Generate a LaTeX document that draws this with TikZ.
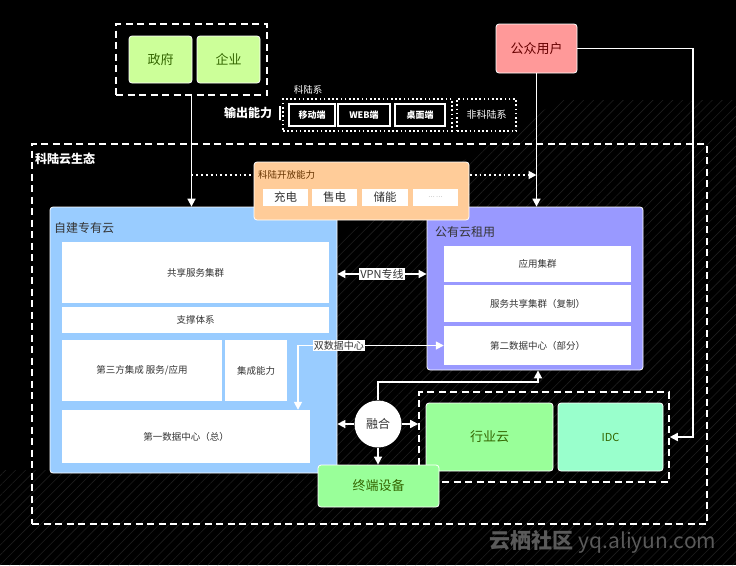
\documentclass[tikz,border=0pt]{standalone}
\usepackage{fontspec}
\setmainfont{Noto Sans CJK SC}
\usetikzlibrary{arrows.meta,patterns.meta,calc}
\definecolor{lgreen}{HTML}{CCFF99}
\definecolor{dgreen}{HTML}{336600}
\definecolor{pinkc}{HTML}{FF9999}
\definecolor{dred}{HTML}{660000}
\definecolor{orangec}{HTML}{FFCC99}
\definecolor{dorange}{HTML}{663300}
\definecolor{bluec}{HTML}{99CCFF}
\definecolor{purplec}{HTML}{9999FF}
\definecolor{greenc}{HTML}{99FF99}
\definecolor{aquac}{HTML}{99FFCC}
\definecolor{txt}{HTML}{333333}
\definecolor{hatchc}{HTML}{1E1E1E}
\definecolor{wmark}{HTML}{5A5A5A}
\tikzset{
  fbox/.style={rounded corners=3pt, inner sep=0pt, draw=white, line width=0.8pt},
  wbox/.style={fill=white, inner sep=0pt, text=txt, font=\fontsize{9.5}{11}\selectfont},
  dashbox/.style={draw=white, line width=2pt, dash pattern=on 7pt off 4.5pt, inner sep=0pt},
  dotbox/.style={draw=white, line width=1.6pt, dash pattern=on 1.6pt off 2.6pt, inner sep=0pt},
  kbox/.style={fill=black, draw=white, line width=1.5pt, inner sep=0pt, text=white, font=\bfseries\fontsize{9}{10}\selectfont},
  arr/.style={draw=white, line width=1.6pt, -{Triangle[width=8pt,length=8pt]}},
  arrb/.style={draw=white, line width=1.6pt, {Triangle[width=8pt,length=8pt]}-{Triangle[width=8pt,length=8pt]}},
  lbl/.style={fill=white, text=txt, inner sep=1pt, font=\fontsize{10}{11}\selectfont},
}
\begin{document}
\begin{tikzpicture}[x=1pt,y=-1pt]
\useasboundingbox[fill=black] (0,0) rectangle (736,565);
% background hatch
\fill[pattern={Lines[angle=45,distance=7pt,line width=0.6pt]}, pattern color=hatchc]
  (337,240) -- (560,100) -- (736,100) -- (736,565) -- (0,565) -- (0,470) -- (337,470) -- cycle;

% top: government / enterprise
\node[dashbox, minimum width=151, minimum height=71] (gov) at (191.5,59.5) {};
\node[fbox, fill=lgreen, text=dgreen, minimum width=63, minimum height=47, font=\fontsize{13}{14}\selectfont] (zf) at (160.5,59.5) {政府};
\node[fbox, fill=lgreen, text=dgreen, minimum width=63, minimum height=47, font=\fontsize{13}{14}\selectfont] (qy) at (228.5,59.5) {企业};

% public users
\node[fbox, fill=pinkc, text=dred, minimum width=81, minimum height=49, font=\fontsize{13}{14}\selectfont] (gz) at (536.5,48.5) {公众用户};

% output capability
\node[text=white, font=\bfseries\fontsize{12}{13}\selectfont, inner sep=0] (sc) at (248,113) {输出能力};
\node[draw=white, line width=1.5pt, minimum width=0, minimum height=14, inner sep=0] (bar) at (280,113) {};
\node[text=white, font=\fontsize{9.5}{10}\selectfont, inner sep=0] (klxl) at (308,90) {科陆系};
\node[dotbox, minimum width=169, minimum height=32] (klx) at (367.5,115) {};
\node[kbox, minimum width=46, minimum height=22] (yd) at (312,115) {移动端};
\node[kbox, minimum width=52, minimum height=22] (web) at (364,115) {WEB端};
\node[kbox, minimum width=50, minimum height=22] (zm) at (420,115) {桌面端};
\node[dotbox, minimum width=59, minimum height=32, text=white, font=\fontsize{10}{11}\selectfont] (fklx) at (486.5,115) {非科陆系};

% ecosystem
\node[dashbox, minimum width=675, minimum height=380] (eco) at (369.5,334) {};
\node[anchor=west, text=white, font=\bfseries\fontsize{12}{13}\selectfont, inner sep=0] (ecol) at (35,159) {科陆云生态};

% self-built private cloud
\node[fbox, fill=bluec, minimum width=287, minimum height=266] (zj) at (193.5,340) {};
\node[anchor=west, text=txt, font=\fontsize{12}{13}\selectfont, inner sep=0] (zjl) at (54,228) {自建专有云};
\node[wbox, minimum width=267, minimum height=61] (gx) at (195.5,272.5) {共享服务集群};
\node[wbox, minimum width=267, minimum height=26] (zc) at (195.5,320) {支撑体系};
\node[wbox, minimum width=160, minimum height=61] (dsf) at (142,370.5) {第三方集成 服务/应用};
\node[wbox, minimum width=62, minimum height=61] (jc) at (256,370.5) {集成能力};
\node[wbox, minimum width=248, minimum height=53] (sd1) at (186,436.5) {第一数据中心（总）};

% public cloud
\node[fbox, fill=purplec, minimum width=216, minimum height=163] (gy) at (535,288.5) {};
\node[anchor=west, text=txt, font=\fontsize{12}{13}\selectfont, inner sep=0] (gyl) at (435,232) {公有云租用};
\node[wbox, minimum width=187, minimum height=36] (yy) at (537.5,264) {应用集群};
\node[wbox, minimum width=187, minimum height=37] (fw) at (537.5,303.5) {服务共享集群（复制）};
\node[wbox, minimum width=187, minimum height=39] (sd2) at (537.5,345.5) {第二数据中心（部分）};

% connectors from the top
\draw[arr] (gov.south) -- (gov.south |- zj.north);
\draw[arr] (gz.south) -- (gz.south |- gy.north);
\coordinate (dy) at (0,175);
\draw[white, line width=1.8pt, dash pattern=on 1.8pt off 3pt, -{Triangle[width=8pt,length=8pt]}] (gov.south |- dy) -- (gz.south |- dy);

% open capability
\node[fbox, fill=orangec, minimum width=215, minimum height=58] (kf) at (361.5,191) {};
\node[anchor=west, text=dorange, font=\fontsize{9.5}{10}\selectfont, inner sep=0] (kfl) at (258,175) {科陆开放能力};
\node[wbox, font=\fontsize{11.5}{12}\selectfont, minimum width=45, minimum height=17] (cd) at (285.5,197.5) {充电};
\node[wbox, font=\fontsize{11.5}{12}\selectfont, minimum width=45, minimum height=17] (sdn) at (334.5,197.5) {售电};
\node[wbox, font=\fontsize{11.5}{12}\selectfont, minimum width=46, minimum height=17] (cn) at (385,197.5) {储能};
\node[wbox, font=\fontsize{6}{7}\selectfont, text=gray, minimum width=45, minimum height=17] (dd) at (435.5,197.5) {… …};

% VPN
\coordinate (vy) at (0,274);
\draw[arrb] (zj.east |- vy) -- (gy.west |- vy) node[lbl, midway, font=\fontsize{11}{12}\selectfont] {VPN专线};
% dual data centre
\coordinate (dx) at (298,0);
\draw[arrb] (sd1.north -| dx) |- (sd2.west) node[lbl, pos=0.64] {双数据中心};

% fusion
\node[circle, fill=white, minimum size=47, inner sep=0, text=txt, font=\fontsize{12}{13}\selectfont] (rh) at (378,424) {融合};
\node[dashbox, line width=1.6pt, minimum width=250, minimum height=90] (inner) at (544,437) {};
\node[fbox, fill=greenc, text=dgreen, minimum width=127, minimum height=68, font=\fontsize{13}{14}\selectfont] (hy) at (489.5,437) {行业云};
\node[fbox, fill=aquac, text=dgreen, minimum width=105, minimum height=68, font=\fontsize{11}{12}\selectfont] (idc) at (610.5,437) {IDC};
\node[fbox, fill=greenc, text=dgreen, minimum width=121, minimum height=42, font=\fontsize{13}{14}\selectfont] (zd) at (378.5,486) {终端设备};

\draw[arr] (rh.west) -- (zj.east |- rh.west);
\draw[arr] (rh.east) -- (inner.west |- rh.east);
\draw[arr] (rh.south) -- (rh.south |- zd.north);
\coordinate (ux) at (538,382);
\draw[arr] (rh.north) |- (ux) -- (ux |- gy.south);
\draw[arr] (gz.east) -- ++(115.5,0) |- (inner.east);

% watermark
\node[text=wmark, font=\fontsize{21}{22}\selectfont, inner sep=0] (wm) at (603,542) {\textbf{云栖社区} yq.aliyun.com};
\end{tikzpicture}
\end{document}
